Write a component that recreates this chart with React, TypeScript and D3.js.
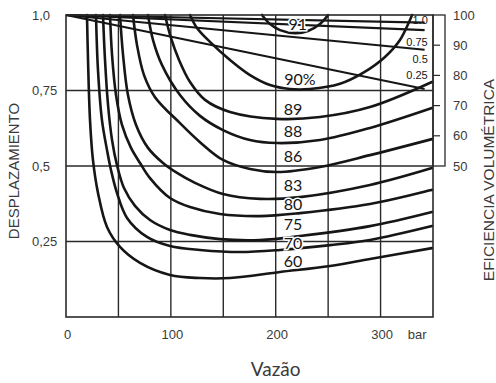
import React from "react";
import * as d3 from "d3";

// ---- axes / ticks ----
const xTicks = [0, 100, 200, 300];
const xTickLabels = ["0", "100", "200", "300"];
const xUnit = "bar";
const xUnitAt = 335;
const xTitle = "Vazão";
const xGrid = [50, 100, 150, 200, 250, 300];
const yTicks = [1.0, 0.75, 0.5, 0.25];
const yTickLabels = ["1,0", "0,75", "0,5", "0,25"];
const yGrid = [0.25, 0.5, 0.75];
const yTitle = "DESPLAZAMIENTO";
const effTicks = [100, 90, 80, 70, 60, 50];
const effTitle = "EFICIENCIA VOLUMÉTRICA";

// ---- iso-efficiency curves: [pressure (bar), displacement] ----
const eff60 = [[20.0, 1.0], [21.0, 0.851], [22.9, 0.652], [25.7, 0.52], [30.5, 0.411], [39.1, 0.298], [51.5, 0.232], [70.6, 0.179], [99.2, 0.139], [127.8, 0.129], [156.4, 0.129], [204.1, 0.149], [251.8, 0.169], [289.9, 0.192], [349, 0.228]];
const eff70 = [[28.6, 1.0], [30.5, 0.818], [34.3, 0.652], [39.1, 0.553], [42.9, 0.487], [48.6, 0.411], [58.2, 0.328], [77.2, 0.265], [99.2, 0.235], [127.8, 0.222], [165.9, 0.215], [204.1, 0.222], [251.8, 0.238], [289.9, 0.255], [349, 0.301]];
const eff75 = [[35.3, 1.0], [37.2, 0.851], [40.1, 0.702], [43.9, 0.586], [48.6, 0.503], [55.3, 0.427], [65.8, 0.368], [80.1, 0.321], [99.2, 0.288], [118.3, 0.272], [146.9, 0.258], [185.0, 0.255], [223.2, 0.268], [289.9, 0.301], [349, 0.348]];
const eff80 = [[42.0, 1.0], [43.9, 0.868], [47.7, 0.735], [53.4, 0.636], [62.0, 0.56], [70.6, 0.51], [80.1, 0.46], [99.2, 0.394], [118.3, 0.364], [146.9, 0.341], [185.0, 0.334], [223.2, 0.344], [289.9, 0.374], [349, 0.421]];
const eff83 = [[51.5, 1.0], [54.4, 0.868], [59.1, 0.735], [66.8, 0.636], [78.2, 0.56], [92.5, 0.51], [105.9, 0.477], [123.0, 0.444], [149.7, 0.407], [185.0, 0.391], [223.2, 0.397], [289.9, 0.437], [349, 0.493]];
const eff86 = [[63.9, 1.0], [67.7, 0.901], [74.4, 0.801], [84.9, 0.728], [108.7, 0.642], [127.8, 0.579], [149.7, 0.52], [175.5, 0.49], [201.2, 0.48], [242.2, 0.497], [289.9, 0.536], [349, 0.589]];
const eff88 = [[78.2, 1.0], [83.0, 0.917], [91.6, 0.834], [108.7, 0.735], [127.8, 0.666], [149.7, 0.619], [175.5, 0.586], [201.2, 0.576], [242.2, 0.586], [289.9, 0.626], [349, 0.692]];
const eff89 = [[94.4, 1.0], [100.1, 0.924], [107.8, 0.851], [118.3, 0.778], [132.6, 0.719], [156.4, 0.679], [201.2, 0.656], [242.2, 0.662], [289.9, 0.695], [349, 0.778]];
const eff90 = [[118.3, 1.0], [124.9, 0.957], [137.3, 0.911], [156.4, 0.851], [175.5, 0.801], [194.6, 0.768], [213.6, 0.755], [232.7, 0.755], [261.3, 0.772], [283.2, 0.808], [304.2, 0.861], [318.5, 0.917], [330.0, 1.0]];
const eff91 = [[186.9, 1.0], [194.6, 0.97], [204.1, 0.95], [218.4, 0.94], [230.8, 0.947], [242.2, 0.97], [249.9, 1.0]];
const effCurves = [eff60, eff70, eff75, eff80, eff83, eff86, eff88, eff89, eff90, eff91];
const effNames = ["60", "70", "75", "80", "83", "86", "88", "89", "90%", "91"];
const effNameP = [216.5, 216.5, 216.5, 216.5, 216.5, 216.5, 216.5, 216.5, 223, 221];
const effNameD = [0.185, 0.245, 0.308, 0.374, 0.437, 0.533, 0.616, 0.689, 0.788, 0.97];

// ---- volumetric efficiency lines per displacement: [pressure, efficiency %] ----
const dispNames = ["1.0", "0.75", "0.5", "0.25"];
const dispEndP = 342;
const dispEndEff = [97.5, 95, 88.5, 75.5];
const dispNameEff = [98.3, 91.1, 85.4, 80.1];
const dispNameP = 345;

export default function App() {
  const W = 496;
  const H = 383;
  const x = d3.scaleLinear().domain([0, 350]).range([66, 433]);
  const y = d3.scaleLinear().domain([0, 1]).range([317, 15]);
  const ye = d3.scaleLinear().domain([50, 100]).range([y(0.5), y(1)]);
  const curve = d3
    .line<number[]>()
    .x((d) => x(d[0]))
    .y((d) => y(d[1]))
    .curve(d3.curveCatmullRom.alpha(0.5));
  const effLine = d3
    .line<number[]>()
    .x((d) => x(d[0]))
    .y((d) => ye(d[1]));

  const ink = "#161616";
  const grid = "#2a2a2a";
  const txt = "#3a3a3a";
  const sans = "'Liberation Sans', Arial, sans-serif";
  const humanist = "Lato, 'Open Sans', sans-serif";
  const boxL = x(350);
  const boxR = boxL + 12;

  return (
    <svg
      width={W}
      height={H}
      viewBox={`0 0 ${W} ${H}`}
      style={{ position: "absolute", left: 0, top: 0, background: "#fff" }}
    >
      <rect x={0} y={0} width={W} height={H} fill="#fff" />
      {/* grid */}
      {xGrid.map((v) => (
        <line key={"gx" + v} x1={x(v)} x2={x(v)} y1={y(0)} y2={y(1)} stroke={grid} strokeWidth={1.4} />
      ))}
      {yGrid.map((v) => (
        <line key={"gy" + v} x1={x(0)} x2={x(350)} y1={y(v)} y2={y(v)} stroke={grid} strokeWidth={1.6} />
      ))}
      {/* efficiency box at right */}
      <rect x={boxL} y={ye(100)} width={boxR - boxL} height={ye(50) - ye(100)} fill="none" stroke={grid} strokeWidth={1.3} />
      {effTicks.slice(1, -1).map((v) => (
        <line key={"et" + v} x1={boxL} x2={boxL + 7} y1={ye(v)} y2={ye(v)} stroke={grid} strokeWidth={1.2} />
      ))}
      {/* displacement labels (under the curves) */}
      {dispNames.map((n, i) => (
        <text
          key={"dn" + i}
          x={x(dispNameP)}
          y={ye(dispNameEff[i])}
          dy="0.36em"
          textAnchor="end"
          fontFamily={sans}
          fontSize={11}
          fill={ink}
          stroke="#fff"
          strokeWidth={2.5}
          paintOrder="stroke"
        >
          {n}
        </text>
      ))}
      {/* volumetric efficiency lines */}
      {dispEndEff.map((e, i) => (
        <path key={"dl" + i} d={effLine([[0, 100], [dispEndP, e]]) || ""} fill="none" stroke={ink} strokeWidth={2.2} />
      ))}
      {/* iso-efficiency curves */}
      {effCurves.map((c, i) => (
        <path key={"ec" + i} d={curve(c as number[][]) || ""} fill="none" stroke={ink} strokeWidth={2.6} strokeLinecap="round" />
      ))}
      {/* frame */}
      <rect x={x(0)} y={y(1)} width={x(350) - x(0)} height={y(0) - y(1)} fill="none" stroke={grid} strokeWidth={1.6} />
      {/* curve labels */}
      {effNames.map((n, i) => (
        <text
          key={"en" + i}
          x={x(effNameP[i])}
          y={y(effNameD[i])}
          dy="0.36em"
          textAnchor="middle"
          fontFamily={humanist}
          fontSize={16}
          fill={ink}
          stroke="#fff"
          strokeWidth={3}
          paintOrder="stroke"
        >
          {n}
        </text>
      ))}
      {/* x tick labels */}
      {xTicks.map((v, i) => (
        <text key={"xt" + v} x={x(v) + 1.5} y={339} textAnchor="middle" fontFamily={sans} fontSize={13} fill={txt}>
          {xTickLabels[i]}
        </text>
      ))}
      <text x={x(xUnitAt)} y={339} textAnchor="middle" fontFamily={sans} fontSize={13} fill={txt}>
        {xUnit}
      </text>
      <text x={x(200)} y={376} textAnchor="middle" fontFamily={humanist} fontSize={19} fill={txt}>
        {xTitle}
      </text>
      {/* y tick labels */}
      {yTicks.map((v, i) => (
        <text key={"yt" + v} x={32} y={y(v)} dy="0.36em" textAnchor="start" fontFamily={sans} fontSize={13} fill={txt}>
          {yTickLabels[i]}
        </text>
      ))}
      <text
        transform={`translate(13.5, 171) rotate(-90)`}
        textAnchor="middle"
        dy="0.36em"
        fontFamily={sans}
        fontSize={15}
        fill={txt}
      >
        {yTitle}
      </text>
      {/* right axis labels */}
      {effTicks.map((v) => (
        <text key={"rt" + v} x={453} y={ye(v)} dy="0.36em" fontFamily={sans} fontSize={13} fill={txt}>
          {v}
        </text>
      ))}
      <text
        transform={`translate(488.5, 180) rotate(-90)`}
        textAnchor="middle"
        dy="0.36em"
        fontFamily={sans}
        fontSize={15.5}
        fill={txt}
      >
        {effTitle}
      </text>
    </svg>
  );
}
